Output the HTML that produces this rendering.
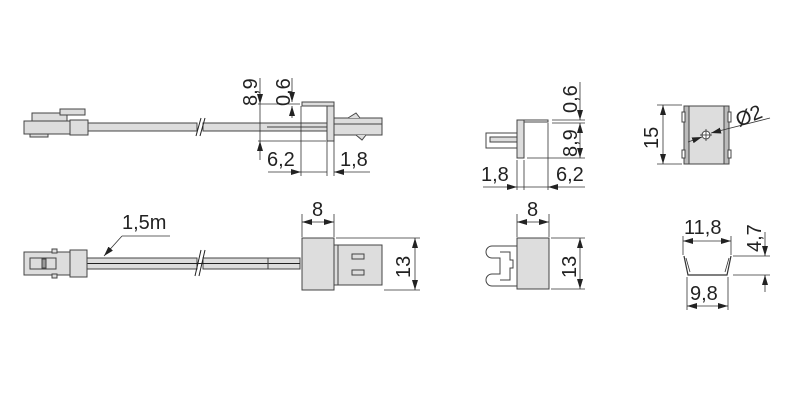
<!DOCTYPE html>
<html><head><meta charset="utf-8"><style>
html,body{margin:0;padding:0;background:#fff;}
svg{display:block}
text{font-family:"Liberation Sans",sans-serif;font-size:20px;fill:#222}
</style></head><body>
<svg width="793" height="408" viewBox="0 0 793 408" xmlns="http://www.w3.org/2000/svg">
<defs>
<marker id="a" markerWidth="10" markerHeight="6" refX="10" refY="3" orient="auto" markerUnits="userSpaceOnUse"><path d="M0,0 L10,3 L0,6 z" fill="#222"/></marker>
</defs>
<g stroke="#444" stroke-width="1" fill="#ddd">
<!-- TOP CABLE -->
<rect x="88" y="123" width="109" height="8"/>
<rect x="203" y="123" width="124" height="8"/>
<line x1="267" y1="127" x2="327" y2="127" />
<line x1="196" y1="136" x2="201" y2="118" stroke="#222"/>
<line x1="200" y1="136" x2="205" y2="118" stroke="#222"/>
<rect x="24" y="121" width="48" height="13"/>
<rect x="30" y="134" width="18" height="3"/>
<rect x="32" y="113" width="35" height="8"/>
<rect x="60" y="109" width="25" height="6"/>
<rect x="70" y="120" width="18" height="15"/>
<rect x="302" y="102" width="32" height="4"/>
<rect x="327" y="106" width="7" height="35"/>
<rect x="334" y="118" width="48" height="17"/>
<line x1="334" y1="124" x2="382" y2="124"/>
<path d="M348 118 L356 113 L360 118" fill="#ddd"/>
<path d="M356 135 L362 140 L366 135" fill="#ddd"/>
</g>
<g stroke="#333" stroke-width="0.8" fill="none">
<line x1="258" y1="104" x2="300" y2="104"/><line x1="258" y1="141" x2="326" y2="141"/>
<line x1="260" y1="78" x2="260" y2="104" marker-end="url(#a)"/>
<line x1="260" y1="160" x2="260" y2="141" marker-end="url(#a)"/>
<line x1="260" y1="104" x2="260" y2="141"/>
<line x1="292" y1="78" x2="292" y2="102" marker-end="url(#a)"/>
<line x1="292" y1="118" x2="292" y2="106" marker-end="url(#a)"/>
<line x1="301" y1="106" x2="301" y2="176"/><line x1="327" y1="141" x2="327" y2="176"/><line x1="334" y1="141" x2="334" y2="176"/>
<line x1="268" y1="172" x2="301" y2="172" marker-end="url(#a)"/>
<line x1="301" y1="172" x2="327" y2="172"/>
<line x1="370" y1="172" x2="334" y2="172" marker-end="url(#a)"/>
</g>
<text transform="translate(257,106) rotate(-90)">8,9</text>
<text transform="translate(290,106) rotate(-90)">0,6</text>
<text x="267" y="166">6,2</text>
<text x="340" y="166">1,8</text>

<!-- BOTTOM CABLE -->
<g stroke="#444" stroke-width="1" fill="#ddd">
<rect x="87" y="258" width="110" height="11"/>
<rect x="203" y="258" width="97" height="11"/>
<line x1="87" y1="263.5" x2="300" y2="263.5" stroke="#222"/>
<line x1="268" y1="258" x2="268" y2="269"/>
<line x1="195" y1="276" x2="201" y2="250" stroke="#222"/>
<line x1="199" y1="276" x2="205" y2="250" stroke="#222"/>
<rect x="24" y="252" width="48" height="23"/>
<rect x="30" y="258" width="26" height="11"/>
<rect x="42" y="259" width="4" height="9" fill="#999"/>
<rect x="52" y="249" width="5" height="4"/><rect x="52" y="274" width="5" height="4"/>
<rect x="70" y="250" width="17" height="27"/>
<rect x="302" y="238" width="32" height="52" />
<rect x="334" y="245" width="48" height="40"/>
<line x1="338" y1="245" x2="338" y2="285"/>
<rect x="352" y="254" width="12" height="5"/>
<rect x="352" y="270" width="12" height="5"/>
</g>
<g stroke="#333" stroke-width="0.8" fill="none">
<line x1="302" y1="214" x2="302" y2="237"/><line x1="334" y1="214" x2="334" y2="237"/>
<line x1="318" y1="222" x2="302" y2="222" marker-end="url(#a)"/>
<line x1="318" y1="222" x2="334" y2="222" marker-end="url(#a)"/>
<line x1="336" y1="238" x2="420" y2="238"/><line x1="384" y1="290" x2="420" y2="290"/>
<line x1="415" y1="264" x2="415" y2="238" marker-end="url(#a)"/>
<line x1="415" y1="264" x2="415" y2="290" marker-end="url(#a)"/>
<line x1="170" y1="236" x2="122" y2="236"/>
<line x1="122" y1="236" x2="104" y2="256" marker-end="url(#a)"/>
</g>
<text x="312" y="216">8</text>
<text transform="translate(410,278) rotate(-90)">13</text>
<text x="122" y="229">1,5m</text>

<!-- MIDDLE TOP -->
<g stroke="#444" stroke-width="1" fill="#ddd">
<rect x="517" y="120" width="31" height="2" fill="#fff"/>
<rect x="517" y="120" width="7" height="38"/>
<rect x="486" y="133" width="31" height="15" fill="#fff"/>
<rect x="490" y="137" width="27" height="5"/>
</g>
<g stroke="#333" stroke-width="0.8" fill="none">
<line x1="552" y1="120" x2="585" y2="120"/><line x1="552" y1="123" x2="585" y2="123"/><line x1="527" y1="158" x2="585" y2="158"/>
<line x1="580" y1="82" x2="580" y2="120" marker-end="url(#a)"/>
<line x1="580" y1="140" x2="580" y2="123" marker-end="url(#a)"/>
<line x1="580" y1="140" x2="580" y2="158" marker-end="url(#a)"/>
<line x1="517" y1="160" x2="517" y2="190"/><line x1="524" y1="160" x2="524" y2="190"/><line x1="548" y1="123" x2="548" y2="190"/>
<line x1="483" y1="187" x2="517" y2="187" marker-end="url(#a)"/>
<line x1="517" y1="187" x2="548" y2="187"/>
<line x1="585" y1="187" x2="548" y2="187" marker-end="url(#a)"/>
</g>
<text transform="translate(577,113) rotate(-90)">0,6</text>
<text transform="translate(577,157) rotate(-90)">8,9</text>
<text x="481" y="181">1,8</text>
<text x="556" y="181">6,2</text>

<!-- MIDDLE BOTTOM -->
<g stroke="#444" stroke-width="1" fill="#ddd">
<path d="M517 246 L492 246 A6 6 0 0 0 492 258 L500 258 L500 274 L492 274 A6 6 0 0 0 492 286 L517 286" fill="#fff"/>
<path d="M500 252 L510 252 L510 260 L513 260 L513 268 L510 268 L510 280 L500 280" fill="none"/>
<rect x="517" y="238" width="32" height="51"/>
</g>
<g stroke="#333" stroke-width="0.8" fill="none">
<line x1="517" y1="214" x2="517" y2="237"/><line x1="549" y1="214" x2="549" y2="237"/>
<line x1="533" y1="222" x2="517" y2="222" marker-end="url(#a)"/>
<line x1="533" y1="222" x2="549" y2="222" marker-end="url(#a)"/>
<line x1="551" y1="238" x2="585" y2="238"/><line x1="551" y1="289" x2="585" y2="289"/>
<line x1="580" y1="264" x2="580" y2="238" marker-end="url(#a)"/>
<line x1="580" y1="264" x2="580" y2="289" marker-end="url(#a)"/>
</g>
<text x="527" y="216">8</text>
<text transform="translate(576,278) rotate(-90)">13</text>

<!-- RIGHT TOP -->
<g stroke="#444" stroke-width="1" fill="#ddd">
<rect x="684" y="106" width="45" height="58"/>
<rect x="684" y="106" width="5" height="58" fill="#bbb"/>
<rect x="724" y="106" width="5" height="58" fill="#bbb"/>
<rect x="682" y="112" width="3" height="10" fill="#fff"/>
<rect x="728" y="112" width="3" height="10" fill="#fff"/>
<rect x="682" y="150" width="3" height="8" fill="#fff"/>
<rect x="728" y="150" width="3" height="8" fill="#fff"/>
<circle cx="706" cy="135" r="4" fill="#fff"/>
</g>
<g stroke="#333" stroke-width="0.8" fill="none">
<line x1="700" y1="135" x2="712" y2="135"/><line x1="706" y1="129" x2="706" y2="141"/>
<line x1="657" y1="105" x2="682" y2="105"/><line x1="657" y1="164" x2="682" y2="164"/>
<line x1="663" y1="135" x2="663" y2="105" marker-end="url(#a)"/>
<line x1="663" y1="135" x2="663" y2="164" marker-end="url(#a)"/>
<line x1="770" y1="118" x2="711" y2="133" marker-end="url(#a)"/>
<line x1="688" y1="142" x2="702" y2="137" marker-end="url(#a)"/>
</g>
<text transform="translate(658,149) rotate(-90)">15</text>
<text transform="translate(739,127) rotate(-22)">Ø2</text>

<!-- RIGHT BOTTOM -->
<g stroke="#333" stroke-width="1.2" fill="none">
<path d="M684 256 L688 275 L727 275 L731 256"/>
<path d="M686 258 L690 272" stroke-width="0.8"/>
<path d="M729 258 L725 272" stroke-width="0.8"/>
</g>
<g stroke="#333" stroke-width="0.8" fill="none">
<line x1="683" y1="236" x2="683" y2="255"/><line x1="731" y1="236" x2="731" y2="255"/>
<line x1="707" y1="241" x2="683" y2="241" marker-end="url(#a)"/>
<line x1="707" y1="241" x2="731" y2="241" marker-end="url(#a)"/>
<line x1="687" y1="277" x2="687" y2="310"/><line x1="728" y1="277" x2="728" y2="310"/>
<line x1="707" y1="306" x2="687" y2="306" marker-end="url(#a)"/>
<line x1="707" y1="306" x2="728" y2="306" marker-end="url(#a)"/>
<line x1="733" y1="256" x2="770" y2="256"/><line x1="733" y1="275" x2="770" y2="275"/>
<line x1="765" y1="232" x2="765" y2="256" marker-end="url(#a)"/>
<line x1="765" y1="292" x2="765" y2="275" marker-end="url(#a)"/>
</g>
<text x="684" y="234">11,8</text>
<text x="690" y="300">9,8</text>
<text transform="translate(761,252) rotate(-90)">4,7</text>
</svg>
</body></html>
